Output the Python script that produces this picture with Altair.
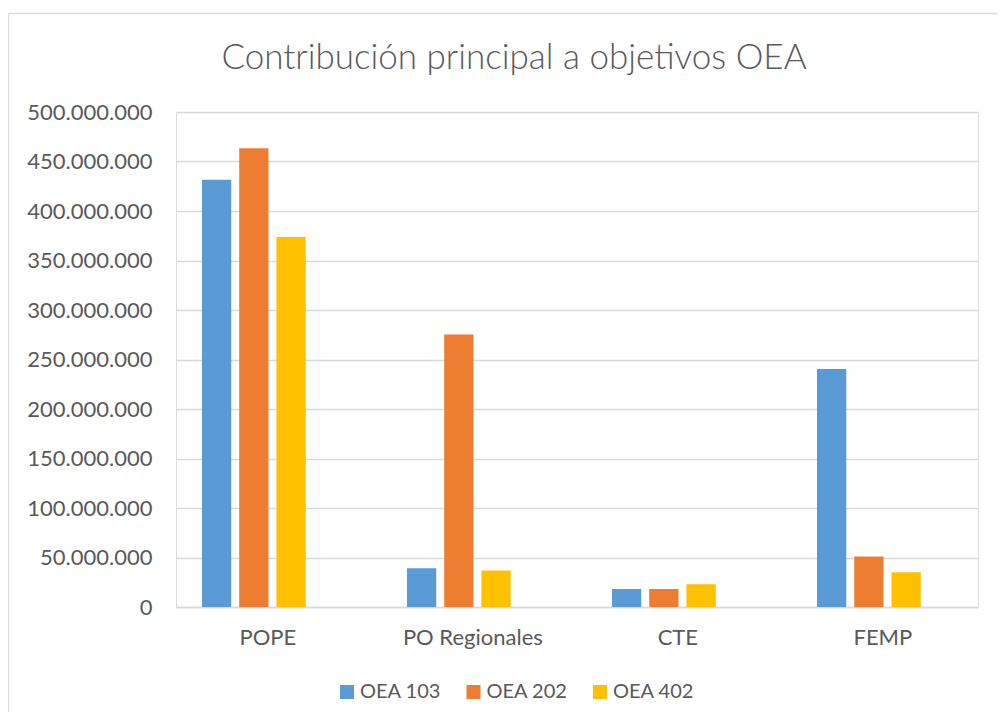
import altair as alt
import pandas as pd

categories = ["POPE", "PO Regionales", "CTE", "FEMP"]
series = ["OEA 103", "OEA 202", "OEA 402"]
oea_103 = [431.5e6, 39.2e6, 18.2e6, 240.3e6]
oea_202 = [463.3e6, 275.3e6, 18.2e6, 51.0e6]
oea_402 = [373.8e6, 36.8e6, 23.0e6, 35.1e6]
y_ticks = [0, 50e6, 100e6, 150e6, 200e6, 250e6, 300e6, 350e6, 400e6, 450e6, 500e6]
colors = ["#5B9BD5", "#ED7D31", "#FFC000"]

rows = []
for s, vals in zip(series, [oea_103, oea_202, oea_402]):
    for c, v in zip(categories, vals):
        rows.append({"categoria": c, "serie": s, "valor": v})
df = pd.DataFrame(rows)

FONT = "Lato"
GRAY = "#595959"
GRID = "#D9D9D9"

label_expr = "replace(replace(format(datum.value, ','), ',', '.'), ',', '.')"

bars = alt.Chart(df).mark_bar().encode(
    x=alt.X("categoria:N", sort=categories, title=None,
            scale=alt.Scale(paddingInner=0.494, paddingOuter=0.203, align=0.312, round=False),
            axis=alt.Axis(labelAngle=0, ticks=False, domainColor=GRID, domainWidth=1.3,
                          labelFont=FONT, labelFontSize=22, labelColor=GRAY,
                          labelPadding=20, labelOffset=14, grid=False)),
    xOffset=alt.XOffset("serie:N", sort=series,
                        scale=alt.Scale(paddingInner=0.214, paddingOuter=0)),
    y=alt.Y("valor:Q", title=None,
            scale=alt.Scale(domain=[0, 500e6], nice=False),
            axis=alt.Axis(values=y_ticks, labelExpr=label_expr, domain=False, ticks=False,
                          gridColor=GRID, gridWidth=1.3, labelFont=FONT, labelFontSize=22,
                          labelColor=GRAY, labelPadding=24)),
    color=alt.Color("serie:N", sort=series,
                    scale=alt.Scale(domain=series, range=colors),
                    legend=alt.Legend(orient="none", legendX=161, legendY=570,
                                      direction="horizontal", title=None,
                                      symbolType="square", symbolSize=196,
                                      symbolStrokeWidth=0, labelFont=FONT,
                                      labelFontSize=20, labelColor=GRAY,
                                      labelOffset=3, columnPadding=21.5)),
)

frame_left = alt.Chart().mark_rule(color=GRID, strokeWidth=1.3).encode(
    x=alt.value(-167.5), y=alt.value(-98.5), y2=alt.value(612))
frame_top = alt.Chart().mark_rule(color=GRID, strokeWidth=1.3).encode(
    x=alt.value(-167.5), x2=alt.value(830), y=alt.value(-98.5))

chart = alt.layer(bars, frame_left, frame_top).properties(
    width=802, height=495,
    padding={"left": 168, "top": 104, "right": 19, "bottom": 105},
    autosize=alt.AutoSizeParams(type="none"),
    title=alt.TitleParams("Contribución principal a objetivos OEA", font=FONT,
                          fontSize=35, fontWeight=300, color=GRAY,
                          anchor="middle", dx=-63, offset=-91, baseline="alphabetic"),
).configure_view(stroke=None).configure(background="white")

chart.save("out.html", embed_options={"renderer": "svg", "actions": False})
